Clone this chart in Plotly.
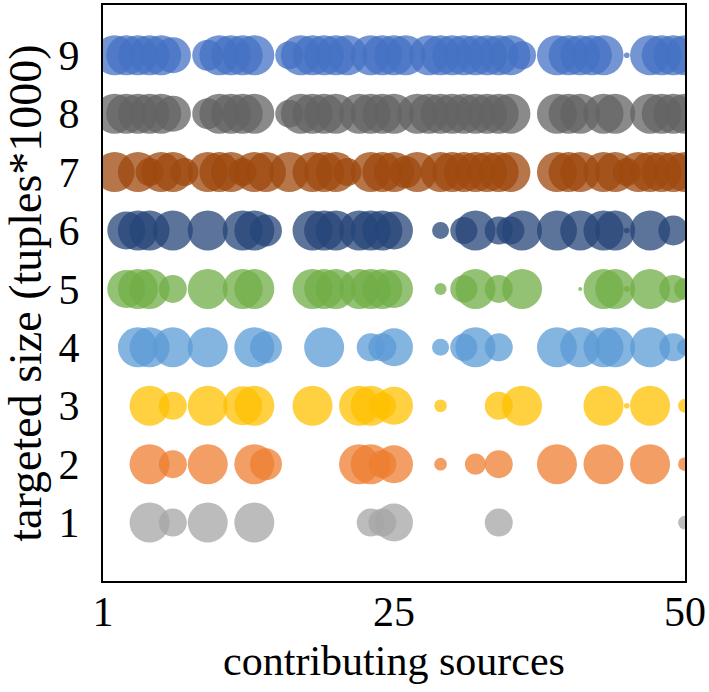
import plotly.graph_objects as go

# target sizes (rows) and their colours
rows = [1, 2, 3, 4, 5, 6, 7, 8, 9]
colors = ["#A5A5A5", "#ED7D31", "#FFC000", "#5B9BD5", "#70AD47",
          "#264478", "#9E480E", "#636363", "#4472C4"]

# contributing sources per row (x) and bubble weight per source
x1 = [4, 6, 9, 13, 23, 24, 25, 34, 50]
s1 = [100, 49, 100, 100, 49, 49, 90, 49, 12]

x2 = [4, 6, 9, 13, 14, 22, 23, 24, 25, 29, 32, 34, 39, 43, 47, 50]
s2 = [100, 49, 100, 100, 64, 100, 100, 49, 90, 10, 28, 49, 100, 100, 100, 12]

x3 = [4, 6, 9, 12, 13, 18, 22, 23, 24, 25, 29, 34, 36, 43, 45, 47, 50]
s3 = [100, 49, 100, 95, 100, 100, 100, 100, 46, 90, 10, 49, 100, 100, 2, 100, 12]

x4 = [3, 4, 6, 9, 13, 14, 19, 23, 24, 25, 29, 31, 32, 34, 39, 41, 43, 44, 47, 49, 50]
s4 = [100, 100, 100, 100, 100, 64, 100, 49, 49, 90, 18, 46, 100, 49, 100, 100, 100, 100, 100, 49, 16]

x5 = [2, 3, 4, 6, 9, 12, 13, 18, 19, 20, 22, 23, 24, 25, 29, 31, 32, 34, 36, 41, 43, 44, 45, 47, 49, 50]
s5 = [90, 100, 100, 49, 100, 100, 100, 100, 100, 100, 100, 100, 100, 90, 9, 46, 100, 49, 100, 1,
      100, 100, 2, 100, 49, 30]

x6 = [2, 3, 4, 6, 9, 12, 13, 14, 18, 19, 20, 22, 23, 24, 25, 29, 31, 32, 34, 35, 36, 39, 41, 43,
      44, 45, 47, 49]
s6 = [90, 100, 100, 100, 100, 100, 100, 64, 100, 100, 100, 100, 100, 100, 90, 18, 46, 100, 49, 49,
      100, 100, 100, 100, 100, 2, 100, 56]

x7 = [1, 3, 4, 5, 6, 7, 9, 10, 11, 12, 13, 14, 16, 18, 19, 20, 21, 23, 24, 25, 26, 27, 29, 30, 31,
      32, 33, 34, 35, 39, 40, 41, 43, 44, 45, 46, 47, 48, 49, 50]
s7 = [100, 100, 49, 100, 100, 49, 100, 100, 100, 49, 100, 100, 100, 100, 100, 100, 49, 100, 100,
      100, 64, 100, 100, 100, 100, 100, 100, 100, 100, 100, 100, 100, 100, 100, 49, 100, 100, 100,
      100, 100]

x8 = [1, 2, 3, 4, 5, 6, 9, 10, 11, 12, 13, 16, 17, 18, 19, 20, 22, 23, 24, 25, 27, 28, 29, 30, 31,
      32, 33, 34, 35, 39, 40, 41, 43, 44, 47, 48, 49, 50]
s8 = [100, 100, 100, 100, 100, 81, 60, 100, 100, 100, 100, 49, 100, 100, 100, 100, 100, 100, 100,
      100, 100, 100, 100, 100, 100, 100, 100, 100, 100, 100, 100, 100, 100, 100, 100, 100, 100, 100]

x9 = [1, 2, 3, 4, 5, 6, 9, 10, 11, 12, 13, 16, 17, 18, 19, 20, 21, 23, 24, 25, 26, 28, 29, 30, 31,
      32, 33, 34, 35, 36, 39, 40, 41, 42, 43, 45, 47, 48, 49, 50]
s9 = [100, 100, 100, 100, 100, 81, 60, 100, 100, 100, 100, 49, 100, 100, 100, 100, 100, 100, 100,
      100, 100, 100, 100, 100, 100, 100, 100, 100, 100, 49, 100, 100, 100, 100, 100, 2, 100, 100, 100, 100]

xs = [x1, x2, x3, x4, x5, x6, x7, x8, x9]
ss = [s1, s2, s3, s4, s5, s6, s7, s8, s9]

x_tickvals = [0, 25, 50]
x_ticktext = ["1", "25", "50"]

fig = go.Figure()
for row, xv, sv, col in zip(rows, xs, ss, colors):
    fig.add_trace(go.Scatter(
        x=xv,
        y=[row] * len(xv),
        mode="markers",
        marker=dict(size=sv, sizemode="area", sizeref=2 * 100 / 40 ** 2,
                    color=col, opacity=0.75, line=dict(width=0)),
        showlegend=False,
    ))

font = "Liberation Serif, Times New Roman, serif"
fig.update_layout(
    width=709,
    height=692,
    margin=dict(l=103, r=22, t=3, b=111),
    paper_bgcolor="white",
    plot_bgcolor="white",
    font=dict(family=font, color="black", size=42),
)
fig.update_xaxes(
    range=[0, 50],
    tickvals=x_tickvals,
    ticktext=x_ticktext,
    showgrid=False,
    zeroline=False,
    showline=True,
    mirror=True,
    linecolor="black",
    linewidth=2,
    ticks="",
    ticklabelstandoff=-7,
    tickfont=dict(size=42),
    title=dict(text="contributing sources", font=dict(size=42), standoff=11),
)
fig.update_yaxes(
    range=[0, 9.86],
    tickvals=rows,
    showgrid=False,
    zeroline=False,
    showline=True,
    mirror=True,
    linecolor="black",
    linewidth=2,
    ticks="",
    ticklabelstandoff=13,
    tickfont=dict(size=42),
    title=dict(text="targeted size (tuples*1000)", font=dict(size=46), standoff=18),
)

# drop the default page margin so the figure sits at the window's corner
fig.write_html("out.html", config={"displayModeBar": False},
               post_script="document.body.style.margin='0px';")
